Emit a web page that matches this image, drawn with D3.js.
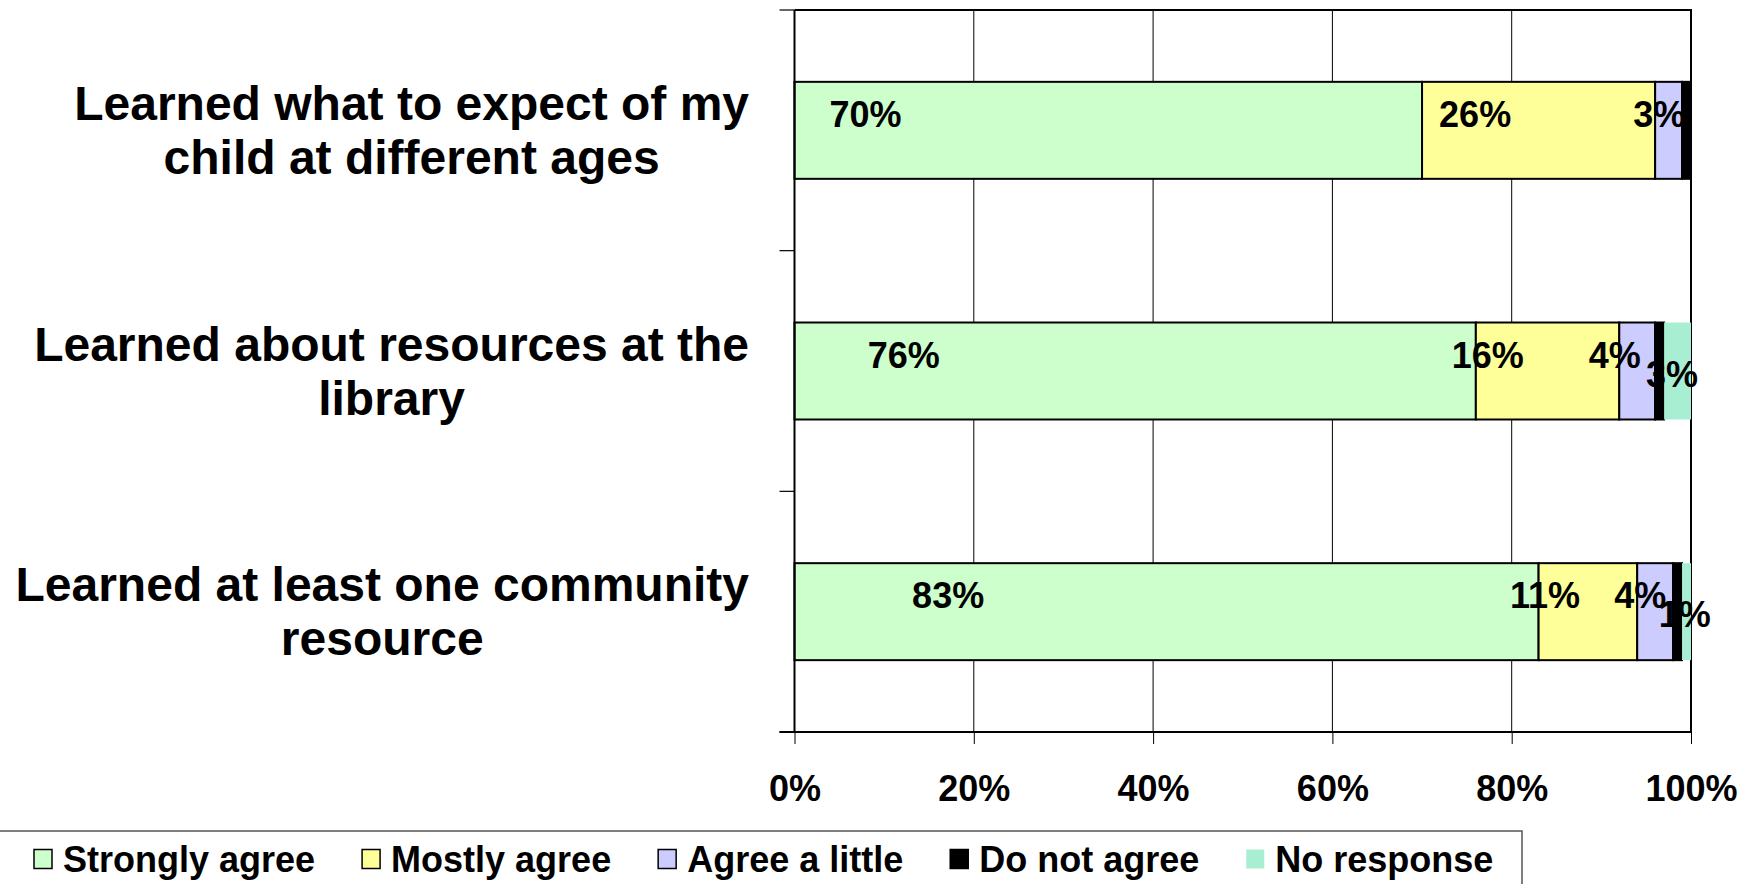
<!DOCTYPE html>
<html>
<head>
<meta charset="utf-8">
<script src="https://cdn.jsdelivr.net/npm/d3@7"></script>
<style>
  body { margin: 0; background: #fff; }
  text { font-family: "Liberation Sans", Arial, sans-serif; font-weight: bold; fill: #000; }
</style>
</head>
<body>
<div id="chart"></div>
<script>
// data
var categories = [
    "Learned what to expect of my child at different ages",
    "Learned about resources at the library",
    "Learned at least one community resource"
];
var seriesNames = ["Strongly agree", "Mostly agree", "Agree a little", "Do not agree", "No response"];
var stronglyAgree = [70, 76, 83];
var mostlyAgree   = [26, 16, 11];
var agreeLittle   = [3, 4, 4];
var doNotAgree    = [1, 1, 1];
var noResponse    = [0, 3, 1];
var xTicks = [0, 20, 40, 60, 80, 100];

var colors = ["#CCFFCC", "#FFFF99", "#CCCCFF", "#000000", "#A8EED3"];
var outlined = [true, true, true, true, false];
var labelled = [true, true, true, false, true];

var viewboxwidth = 1750;
var viewboxheight = 884;
var plot = {left: 794.5, right: 1691, top: 10, bottom: 732};

var svg = d3.select("#chart")
    .append("svg")
    .attr("width", viewboxwidth)
    .attr("height", viewboxheight)
    .attr("viewBox", "0 0 " + viewboxwidth + " " + viewboxheight);

var rows = categories.map(function(c, i) {
    return {cat: c, s0: stronglyAgree[i], s1: mostlyAgree[i], s2: agreeLittle[i], s3: doNotAgree[i], s4: noResponse[i]};
});
var keys = ["s0", "s1", "s2", "s3", "s4"];
var stacked = d3.stack().keys(keys)(rows);

var x = d3.scaleLinear().domain([0, 100]).range([plot.left, plot.right]);
// data labels sit on a shifted scale, as in the original
var xLabel = d3.scaleLinear().domain([29.4, 100]).range([plot.left, plot.right]);
var y = d3.scaleBand().domain(categories).range([plot.top, plot.bottom])
    .paddingInner(0.597).paddingOuter(0.2985);

// gridlines
svg.append("g")
    .selectAll("line")
    .data(xTicks.filter(function(t) { return t > 0 && t < 100; }))
    .enter().append("line")
    .attr("x1", function(d) { return x(d); })
    .attr("x2", function(d) { return x(d); })
    .attr("y1", plot.top)
    .attr("y2", plot.bottom)
    .attr("stroke", "#000")
    .attr("stroke-width", 1);

// top and right border of plot area
svg.append("path")
    .attr("d", "M" + x(0) + "," + plot.top + "H" + x(100) + "V" + plot.bottom)
    .attr("fill", "none")
    .attr("stroke", "#000")
    .attr("stroke-width", 2);

// bars
var layers = svg.append("g").selectAll("g")
    .data(stacked)
    .enter().append("g")
    .attr("fill", function(d, i) { return colors[i]; });

layers.selectAll("rect")
    .data(function(d, i) { return d.map(function(p) { return {p: p, i: i}; }); })
    .enter().append("rect")
    .filter(function(d) { return d.p[1] - d.p[0] > 0; })
    .attr("x", function(d) { return x(d.p[0]); })
    .attr("width", function(d) { return x(d.p[1]) - x(d.p[0]); })
    .attr("y", function(d) { return y(d.p.data.cat); })
    .attr("height", y.bandwidth())
    .attr("stroke", function(d) { return outlined[d.i] ? "#000" : "none"; })
    .attr("stroke-width", 2);

// bar labels
stacked.forEach(function(layer, i) {
    if (!labelled[i]) return;
    svg.append("g").selectAll("text")
        .data(layer.filter(function(p) { return p[1] - p[0] > 0; }))
        .enter().append("text")
        .attr("x", function(p) { return xLabel((p[0] + p[1]) / 2); })
        .attr("y", function(p) { return y(p.data.cat) + y.bandwidth() / 2 + (i === 4 ? 3 : -16); })
        .attr("dy", "0.35em")
        .attr("text-anchor", "middle")
        .style("font-size", "36px")
        .text(function(p) { return (p[1] - p[0]) + "%"; });
});

// x axis
var xAxis = svg.append("g")
    .attr("transform", "translate(0," + plot.bottom + ")")
    .call(d3.axisBottom(x).tickValues(xTicks).tickSize(12).tickFormat(function(d) { return d + "%"; }));
xAxis.select(".domain").attr("stroke-width", 2).attr("d", "M" + (x(0) - 15) + ",0H" + x(100));
xAxis.selectAll(".tick line").attr("stroke-width", 1);
xAxis.selectAll(".tick text")
    .attr("y", 0)
    .attr("dy", "69px")
    .style("font-size", "36px")
    .style("font-family", "'Liberation Sans', Arial, sans-serif")
    .style("font-weight", "bold");

// y axis: ticks at the band edges
var yEdges = categories.map(function(c) { return y(c) - y.step() * y.paddingInner() / 2; });
yEdges.push(plot.bottom);
var yAxis = svg.append("g");
yAxis.append("line")
    .attr("x1", x(0)).attr("x2", x(0))
    .attr("y1", plot.top).attr("y2", plot.bottom)
    .attr("stroke", "#000").attr("stroke-width", 2);
yAxis.selectAll(".ytick")
    .data(yEdges)
    .enter().append("line")
    .attr("class", "ytick")
    .attr("x1", x(0) - 15).attr("x2", x(0))
    .attr("y1", function(d) { return d; }).attr("y2", function(d) { return d; })
    .attr("stroke", "#000").attr("stroke-width", 1.2);

// category labels, wrapped and centred as a block
var labelRight = 749;
var lineGap = 54;
categories.forEach(function(c) {
    var words = c.split(" ");
    var lines = [];
    var cur = "";
    var probe = svg.append("text").style("font-size", "48px");
    words.forEach(function(w) {
        var test = cur ? cur + " " + w : w;
        probe.text(test);
        if (probe.node().getComputedTextLength() > 745 && cur) {
            lines.push(cur);
            cur = w;
        } else {
            cur = test;
        }
    });
    lines.push(cur);
    var widths = lines.map(function(l) { probe.text(l); return probe.node().getComputedTextLength(); });
    probe.remove();
    var cx = labelRight - d3.max(widths) / 2;
    var cy = y(c) + y.bandwidth() / 2;
    lines.forEach(function(l, k) {
        svg.append("text")
            .attr("x", cx)
            .attr("y", cy + (k - (lines.length - 1) / 2) * lineGap)
            .attr("dy", "0.35em")
            .attr("text-anchor", "middle")
            .style("font-size", "48px")
            .text(l);
    });
});

// legend
var legend = svg.append("g");
legend.append("rect")
    .attr("x", -1).attr("y", 831)
    .attr("width", 1523).attr("height", 80)
    .attr("fill", "#fff")
    .attr("stroke", "#555")
    .attr("stroke-width", 1.5);

var lx = 34;
seriesNames.forEach(function(name, i) {
    legend.append("rect")
        .attr("x", lx).attr("y", 849.5)
        .attr("width", 18).attr("height", 19)
        .attr("fill", colors[i])
        .attr("stroke", outlined[i] ? "#000" : "none")
        .attr("stroke-width", 1.5);
    var t = legend.append("text")
        .attr("x", lx + 29)
        .attr("y", 859)
        .attr("dy", "0.35em")
        .style("font-size", "36px")
        .text(name);
    lx = lx + 29 + t.node().getComputedTextLength() + 47;
});
</script>
</body>
</html>
